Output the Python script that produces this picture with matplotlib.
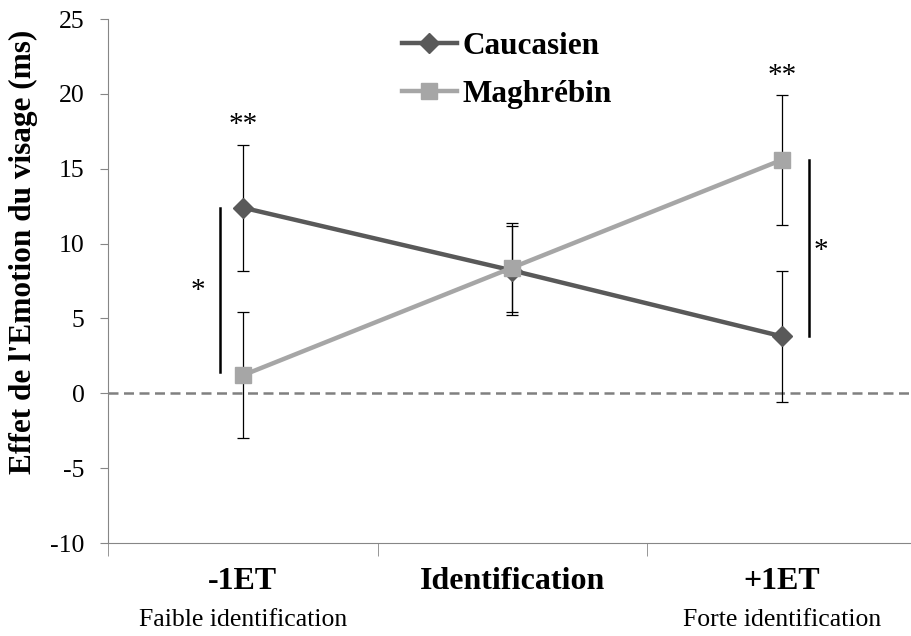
import numpy as np
import matplotlib
matplotlib.use('Agg')
import matplotlib.pyplot as plt

# data
categories = ['-1ET', 'Identification', '+1ET']
sublabels = ['Faible identification', '', 'Forte identification']
caucasien = [12.4, 8.2, 3.8]
caucasien_err = [4.2, 3.0, 4.35]
maghrebin = [1.2, 8.4, 15.6]
maghrebin_err = [4.2, 2.95, 4.35]
series_names = ['Caucasien', 'Maghrébin']
# significance brackets: (x, y_bottom, y_top, star label, star x, star y)
sig_bars = [(-0.085, 1.4, 12.35, '*', -0.165, 6.8),
            (2.10, 3.85, 15.55, '*', 2.145, 9.5)]
stars = [(0, 17.9, '**'), (2, 21.2, '**')]

plt.rcParams['font.family'] = ['Liberation Serif', 'DejaVu Serif']
plt.rcParams['axes.unicode_minus'] = False

col_cau = '#595959'
col_mag = '#a6a6a6'
axis_col = '#868686'

fig = plt.figure(figsize=(9.12, 6.36), dpi=100)
ax = fig.add_axes([108/912, 93/636, 809/912, 524/636])

x = np.arange(len(categories))

ax.axhline(0, color='#808080', lw=1.8, ls=(0, (4, 2.2)), zorder=1)

ax.errorbar(x, caucasien, yerr=caucasien_err, fmt='none', ecolor='black',
            elinewidth=0.9, capsize=4.3, capthick=0.9, zorder=2)
ax.errorbar(x, maghrebin, yerr=maghrebin_err, fmt='none', ecolor='black',
            elinewidth=0.9, capsize=4.3, capthick=0.9, zorder=2)

ax.plot(x, caucasien, color=col_cau, lw=3.2, marker='D', ms=10.5,
        label=series_names[0], zorder=3)
ax.plot(x, maghrebin, color=col_mag, lw=3.2, marker='s', ms=11,
        label=series_names[1], zorder=4)

for bx, y0, y1, lab, sx, sy in sig_bars:
    ax.plot([bx, bx], [y0, y1], color='black', lw=1.8, zorder=2)
    ax.text(sx, sy, lab, ha='center', va='center', fontsize=21)
for sx, sy, lab in stars:
    ax.text(sx, sy, lab, ha='center', va='center', fontsize=21)

ax.set_xlim(-0.5, 2.5)
ax.set_ylim(-10, 25)
ax.set_yticks(np.arange(-10, 26, 5))
ax.tick_params(axis='y', labelsize=18.5, length=6, color=axis_col, pad=11)

ax.set_xticks(x)
ax.set_xticklabels(categories, fontsize=23, fontweight='bold')
ax.tick_params(axis='x', which='major', length=0, pad=17)
ax.set_xticks([-0.5, 0.5, 1.5], minor=True)
ax.tick_params(axis='x', which='minor', length=9, color=axis_col)

for i, s in enumerate(sublabels):
    ax.text(x[i], -0.146, s, transform=ax.get_xaxis_transform(),
            ha='center', va='center', fontsize=18.5)

for s in ['top', 'right']:
    ax.spines[s].set_visible(False)
for s in ['left', 'bottom']:
    ax.spines[s].set_color(axis_col)

ax.set_ylabel("Effet de l'Emotion du visage (ms)", fontsize=22.5,
              fontweight='bold')
ax.yaxis.set_label_coords(-70/809, 0.555)

leg = ax.legend(loc='upper left', bbox_to_anchor=(374/912, 1 - 4/636),
                bbox_transform=fig.transFigure, frameon=False,
                prop={'size': 22.5, 'weight': 'bold'}, handlelength=1.75,
                handletextpad=0.17, labelspacing=0.6)

fig.savefig('out.png', dpi=100)
